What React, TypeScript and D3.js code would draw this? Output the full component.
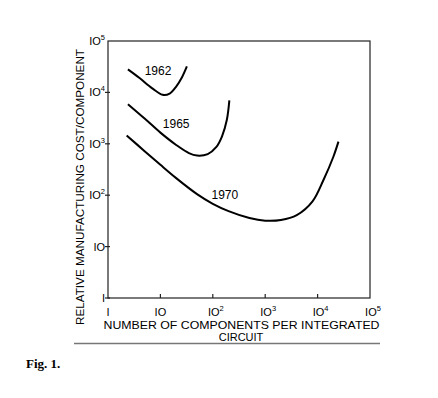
import React from 'react';
import * as d3 from 'd3';

// components per integrated circuit, relative cost per component
const curve1962 = [[2.4, 28000], [4, 19000], [7, 12000], [11, 9000], [15, 9500], [20, 13000], [26, 20000], [32, 32000]];
const curve1965 = [[2.4, 5900], [5, 3100], [10, 1650], [20, 950], [35, 660], [50, 590], [80, 630], [117, 870], [150, 1400], [185, 2900], [207, 7000]];
const curve1970 = [[2.27, 1450], [5, 720], [10, 390], [20, 215], [50, 105], [100, 68], [200, 49], [500, 36], [1000, 32], [2000, 33], [4000, 41], [8000, 76], [13000, 200], [20000, 560], [25000, 1100]];

const years = ['1962', '1965', '1970'];
const labelAt = [[9, 22000], [20, 2030], [170, 84]];
const decades = [0, 1, 2, 3, 4, 5];

const W = 438, H = 398;
const left = 108, right = 370, top = 41, bottom = 298;
const font = 'Liberation Sans, Arial, sans-serif';

function TickLabel({ e, x, y, anchor }: { e: number; x: number; y: number; anchor: string }) {
  if (e === 0) return <text x={x} y={y} textAnchor={anchor} fontSize={11}>I</text>;
  if (e === 1) return <text x={x} y={y} textAnchor={anchor} fontSize={11}>IO</text>;
  return (
    <text x={x} y={y} textAnchor={anchor} fontSize={11}>
      IO<tspan fontSize={7.5} dy={-5}>{e}</tspan>
    </text>
  );
}

export default function App() {
  const x = d3.scaleLog().domain([1, 1e5]).range([left, right]);
  const y = d3.scaleLog().domain([1, 1e5]).range([bottom, top]);

  const line = d3.line<number[]>()
    .x(d => x(d[0]))
    .y(d => y(d[1]))
    .curve(d3.curveCatmullRom.alpha(0.5));

  const curves = [curve1962, curve1965, curve1970];

  return (
    <svg width={W} height={H} style={{ position: 'absolute', left: 0, top: 0, background: '#fff' }} fontFamily={font}>
      {/* frame */}
      <rect x={left} y={top} width={right - left} height={bottom - top} fill="none" stroke="#222" strokeWidth={1.2} />

      {/* y ticks */}
      {decades.slice(0, 5).map(e => (
        <line key={'yt' + e} x1={left - 3} x2={left + 2} y1={y(Math.pow(10, e))} y2={y(Math.pow(10, e))} stroke="#222" strokeWidth={1.2} />
      ))}
      {decades.map(e => (
        <TickLabel key={'yl' + e} e={e} x={left - 3} y={y(Math.pow(10, e)) + 4} anchor="end" />
      ))}

      {/* x ticks */}
      {decades.slice(1, 5).map(e => (
        <line key={'xt' + e} x1={x(Math.pow(10, e))} x2={x(Math.pow(10, e))} y1={bottom} y2={bottom - 4} stroke="#222" strokeWidth={1.2} />
      ))}
      {decades.map(e => (
        <TickLabel key={'xl' + e} e={e} x={x(Math.pow(10, e)) + (e > 1 ? 3 : 0)} y={316} anchor="middle" />
      ))}

      {/* curves */}
      {curves.map((c, i) => (
        <path key={years[i]} d={line(c) || ''} fill="none" stroke="#000" strokeWidth={2} />
      ))}
      {years.map((yr, i) => (
        <text key={'lb' + yr} x={x(labelAt[i][0])} y={y(labelAt[i][1])} textAnchor="middle" fontSize={12}>{yr}</text>
      ))}

      {/* axis titles */}
      <text transform="translate(83.5,187) rotate(-90)" textAnchor="middle" fontSize={11} textLength={276} lengthAdjust="spacingAndGlyphs">
        RELATIVE MANUFACTURING COST/COMPONENT
      </text>
      <text x={241.5} y={329} textAnchor="middle" fontSize={11} textLength={276} lengthAdjust="spacingAndGlyphs">
        NUMBER OF COMPONENTS PER INTEGRATED
      </text>
      <text x={241} y={341} textAnchor="middle" fontSize={11}>CIRCUIT</text>

      <line x1={74} x2={380} y1={343.5} y2={343.5} stroke="#777" strokeWidth={1.5} />

      <text x={26} y={368} fontFamily="Liberation Serif, DejaVu Serif, serif" fontWeight="bold" fontSize={13}>Fig. 1.</text>
    </svg>
  );
}
